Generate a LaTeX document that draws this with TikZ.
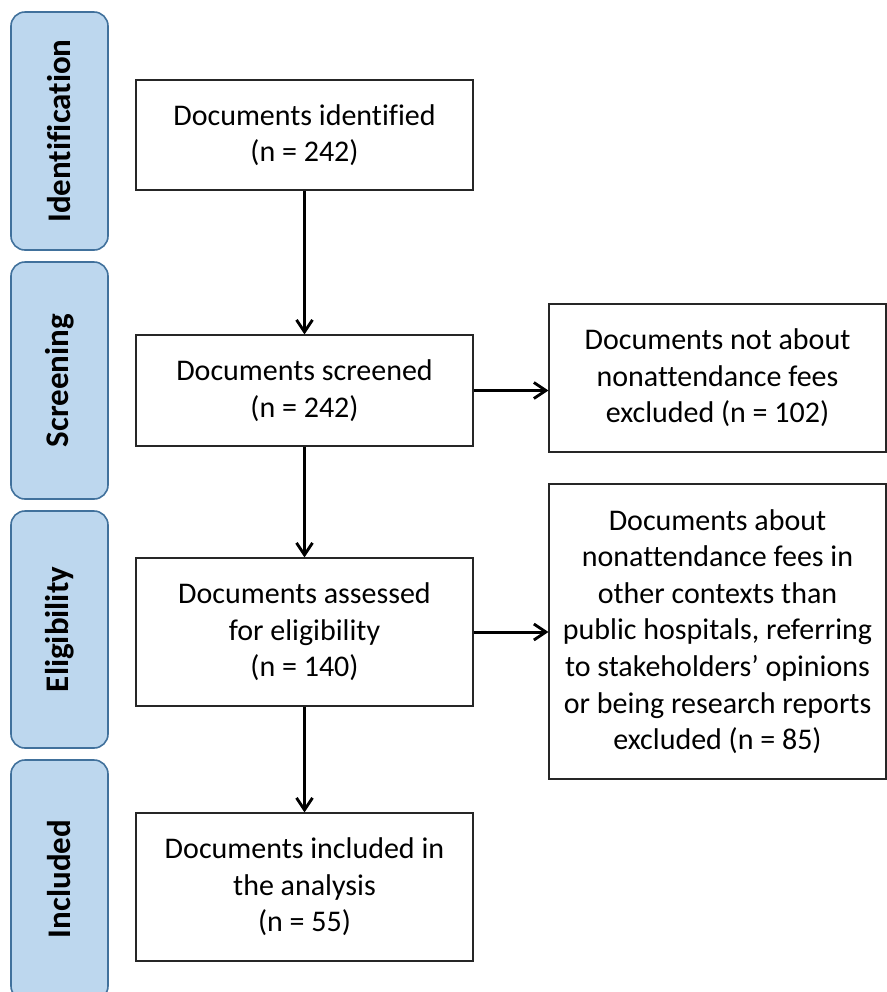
\documentclass[tikz,border=0pt]{standalone}
\usepackage{fontspec}
\setmainfont[Ligatures=NoCommon]{Carlito}
\usepackage{tikz}
\usetikzlibrary{arrows.meta}
\definecolor{barfill}{HTML}{BDD7EE}
\definecolor{barline}{HTML}{41719C}
\tikzstyle{docbox} = [draw=black!85, fill=white, line width=0.6pt,
    rectangle, align=center, font=\fontsize{15}{18.3}\selectfont, inner sep=0pt]
\tikzstyle{stagebar} = [draw=barline, fill=barfill, line width=0.8pt,
    rectangle, rounded corners=7pt, minimum width=48.5pt]
\tikzstyle{stagetext} = [rotate=90, font=\fontsize{16.5}{19}\selectfont\bfseries]
\tikzstyle{flow} = [line width=1.5pt, -{Straight Barb[length=6pt,width=8pt,line width=1.4pt]}]

\begin{document}
\begin{tikzpicture}[x=0.5pt, y=-0.5pt]
    \useasboundingbox (0,0) rectangle (887,992);
    % stage bars on the left
    \node [stagebar, minimum height=119pt] (idbar) at (59.5,131) {};
    \node [stagetext] at (idbar) {Identification};
    \node [stagebar, minimum height=118.5pt] (scbar) at (59.5,380.5) {};
    \node [stagetext] at (scbar) {Screening};
    \node [stagebar, minimum height=118.5pt] (elbar) at (59.5,629.5) {};
    \node [stagetext] at (elbar) {Eligibility};
    \node [stagebar, minimum height=120pt] (inbar) at (59.5,880) {};
    \node [stagetext] at (inbar.center |- 0,879) {Included};
    % main flow
    \node [docbox, minimum width=168.5pt, minimum height=55pt] (ident) at (304.5,135)
        {Documents identified\\(n = 242)};
    \node [docbox, minimum width=168.5pt, minimum height=55.5pt] (screen) at (304.5,390.5)
        {Documents screened\\(n = 242)};
    \node [docbox, minimum width=168.5pt, minimum height=74pt] (elig) at (304.5,632)
        {Documents assessed\\for eligibility\\(n = 140)};
    \node [docbox, minimum width=168.5pt, minimum height=74pt] (incl) at (304.5,887)
        {Documents included in\\the analysis\\(n = 55)};
    % exclusions
    \node [docbox, minimum width=168.5pt, minimum height=74pt] (exclone) at (717.5,378)
        {Documents not about\\nonattendance fees\\excluded (n = 102)};
    \node [docbox, minimum width=168.5pt, minimum height=147.5pt] (excltwo) at (717.5,631.5)
        {Documents about\\nonattendance fees in\\other contexts than\\public hospitals, referring\\to stakeholders’ opinions\\or being research reports\\excluded (n = 85)};
    \draw [flow] (ident) -- (screen);
    \draw [flow] (screen) -- (elig);
    \draw [flow] (elig) -- (incl);
    \draw [flow] (screen.east) -- (screen.east -| exclone.west);
    \draw [flow] (elig.east) -- (elig.east -| excltwo.west);
\end{tikzpicture}
\end{document}
